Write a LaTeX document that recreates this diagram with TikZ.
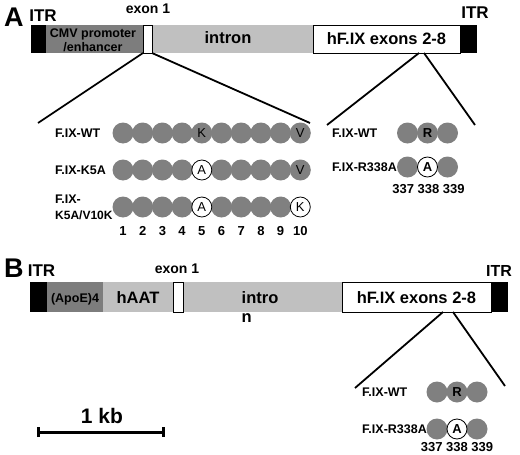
\documentclass[tikz,border=0pt]{standalone}
\usepackage{fontspec}
\setmainfont{Liberation Sans}
\usetikzlibrary{arrows.meta}
\definecolor{dgray}{RGB}{125,125,125}
\definecolor{lgray}{RGB}{192,192,192}
\definecolor{cgray}{RGB}{128,128,128}
\begin{document}
\begin{tikzpicture}[x=1pt,y=-1pt,
  seg/.style={inner sep=0pt, outer sep=0pt, anchor=west, minimum height=#1},
  blackseg/.style={seg=#1, fill=black},
  darkseg/.style={seg=#1, fill=dgray},
  lightseg/.style={seg=#1, fill=lgray},
  whiteseg/.style={seg=#1, fill=white, draw=black, line width=1pt},
  txt/.style={inner sep=0pt, anchor=base},
  ltxt/.style={inner sep=0pt, anchor=west},
  f12/.style={font=\fontsize{12.5}{14}\selectfont\bfseries},
  f13n/.style={font=\fontsize{13}{15}\selectfont\bfseries},
  f12r/.style={font=\fontsize{13}{15}\selectfont},
  f13/.style={font=\fontsize{14}{16}\selectfont\bfseries},
  f16/.style={font=\fontsize{16.5}{19}\selectfont\bfseries},
  f17/.style={font=\fontsize{17}{20}\selectfont\bfseries},
  f21/.style={font=\fontsize{21}{24}\selectfont\bfseries},
  f27/.style={font=\fontsize{27}{30}\selectfont\bfseries},
  gc/.style={circle, fill=cgray, minimum size=21pt, inner sep=0pt},
  wc/.style={circle, fill=white, draw=black, line width=0.8pt, minimum size=20pt, inner sep=0pt},
  conn/.style={draw=black, line width=1.8pt},
]
\useasboundingbox (0,0) rectangle (520,455);

% ---------------- Panel A ----------------
\node[txt, f27, anchor=base west] (labA) at (4,27) {A};
\node[txt, f17] (itrAtxtL) at (43,21) {ITR};
\node[txt, f17] (itrAtxtR) at (475,18) {ITR};
\node[txt, f13] (exonAtxt) at (148,13.5) {exon 1};

\node[blackseg=28, minimum width=15] (itrAL) at (31,39) {};
\node[darkseg=28, minimum width=97] (cmv) at (46,39) {};
\node[lightseg=28, minimum width=161] (intronA) at (152,39) {};
\node[whiteseg=28, minimum width=9] (exonA) at (143,39) {};
\node[whiteseg=28, minimum width=147] (hfA) at (313,39) {};
\node[blackseg=28, minimum width=17] (itrAR) at (460,39) {};

\node[txt, f12] (cmvt1) at (93,37.5) {CMV promoter};
\node[txt, f12] (cmvt2) at (93,51) {/enhancer};
\node[txt, f16] (intronAt) at (228,43) {intron};
\node[txt, f16] (hfAt) at (386.5,45) {hF.IX exons 2-8};

\coordinate (pA1) at (38,123);
\coordinate (pA2) at (310,123);
\coordinate (qA1) at (327,125);
\coordinate (qA2) at (475,125);
\draw[conn] (exonA.south west) -- (pA1);
\draw[conn] (exonA.south east) -- (pA2);
\draw[conn] ([xshift=32.5pt]hfA.south) -- (qA1);
\draw[conn] ([xshift=37.5pt]hfA.south) -- (qA2);

% row labels
\node[ltxt, f12] (lwt) at (55,133) {F.IX-WT};
\node[ltxt, f12] (lk5a) at (55,170) {F.IX-K5A};
\node[txt, f12, anchor=base west] (lkv1) at (55,203) {F.IX-};
\node[txt, font=\fontsize{12}{14}\selectfont\bfseries, anchor=base west] (lkv2) at (55,219) {K5A/V10K};

% circles rows
\foreach \i in {1,...,10} {
  \node[gc] (wt\i) at ({123+19.7*(\i-1)},133) {};
}
\foreach \i in {1,2,3,4,6,7,8,9,10} {
  \node[gc] (ka\i) at ({123+19.7*(\i-1)},170) {};
}
\foreach \i in {1,2,3,4,6,7,8,9} {
  \node[gc] (kv\i) at ({123+19.7*(\i-1)},207) {};
}
\node[wc, f12r] (ka5) at ({123+19.7*4},170) {A};
\node[wc, f12r] (kv5) at ({123+19.7*4},207) {A};
\node[wc, f12r] (kv10) at ({123+19.7*9},207) {K};
\node[f12r, inner sep=0pt] (wtK) at (wt5) {K};
\node[f12r, inner sep=0pt] (wtV) at (wt10) {V};
\node[f12r, inner sep=0pt] (kaV) at (ka10) {V};

\foreach \i in {1,...,10} {
  \node[txt, f13n] (num\i) at ({123+19.7*(\i-1)},235.5) {\i};
}

% right group A
\node[ltxt, f12] (rwtA) at (332,133) {F.IX-WT};
\node[ltxt, f12] (rraA) at (332,167) {F.IX-R338A};
\node[gc] (ra1) at (407.5,133) {};
\node[gc] (ra3) at (447.5,133) {};
\node[gc, f13n] (ra2) at (427.5,133) {R};
\node[gc] (rb1) at (407.5,167) {};
\node[gc] (rb3) at (447.5,167) {};
\node[wc, f13n] (rb2) at (427.5,167) {A};
\node[txt, f13n] (rnumA) at (428.5,193) {337 338 339};

% ---------------- Panel B ----------------
\node[txt, f27, anchor=base west] (labB) at (4,277) {B};
\node[txt, f17] (itrBtxtL) at (41.5,276) {ITR};
\node[txt, font=\fontsize{16}{19}\selectfont\bfseries] (itrBtxtR) at (499,276) {ITR};
\node[txt, f13] (exonBtxt) at (177,273) {exon 1};

\node[blackseg=30, minimum width=17] (itrBL) at (30,297) {};
\node[darkseg=30, minimum width=56] (apoe) at (47,297) {};
\node[lightseg=30, minimum width=70] (haat) at (103,297) {};
\node[lightseg=30, minimum width=159] (intronB) at (183,297) {};
\node[whiteseg=30, minimum width=10] (exonB) at (173,297) {};
\node[whiteseg=30, minimum width=149] (hfB) at (342,297) {};
\node[blackseg=30, minimum width=17] (itrBR) at (491,297) {};

\node[txt, f12] (apoet) at (75,302) {(ApoE)4};
\node[txt, f16] (haatt) at (138,303) {hAAT};
\node[txt, f16, anchor=base west] (intBt1) at (241.5,303) {intro};
\node[txt, f16, anchor=base west] (intBt2) at (241.5,322) {n};
\node[txt, f16] (hfBt) at (416.5,303) {hF.IX exons 2-8};

\coordinate (qB1) at (355,388);
\coordinate (qB2) at (505,386);
\draw[conn] ([xshift=26.5pt]hfB.south) -- (qB1);
\draw[conn] ([xshift=36.5pt]hfB.south) -- (qB2);

\node[ltxt, f12] (rwtB) at (362,392) {F.IX-WT};
\node[ltxt, f12] (rraB) at (362,429) {F.IX-R338A};
\node[gc] (sa1) at (437,392) {};
\node[gc] (sa3) at (477,392) {};
\node[gc, f13n] (sa2) at (457,392) {R};
\node[gc] (sb1) at (437,429) {};
\node[gc] (sb3) at (477,429) {};
\node[wc, f13n] (sb2) at (457,429) {A};
\node[txt, f13n] (rnumB) at (457,451.5) {337 338 339};

% scale bar
\node[txt, f21] (kb) at (102,423) {1 kb};
\coordinate (sbl) at (37,432);
\coordinate (sbr) at (165,432);
\draw[line width=3pt, {Bar[width=10pt,line width=3pt]}-{Bar[width=10pt,line width=3pt]}] (sbl) -- (sbr);
\end{tikzpicture}
\end{document}
